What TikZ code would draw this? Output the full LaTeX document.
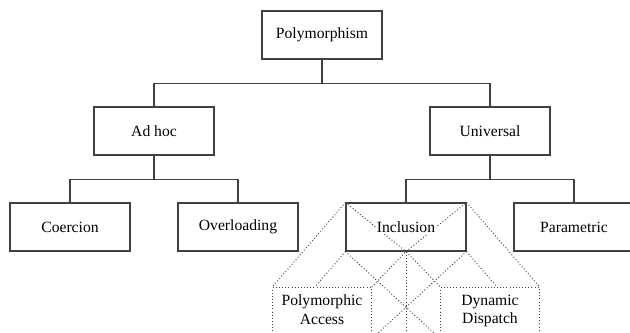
\documentclass[tikz,border=0pt]{standalone}
\usepackage{fontspec}
\setmainfont{Liberation Serif}
\usetikzlibrary{calc, backgrounds}
\newcommand{\onwhite}[1]{{\setlength{\fboxsep}{0.8pt}\colorbox{white}{#1}}}

\begin{document}
\begin{tikzpicture}[x=0.64pt, y=-0.64pt,
    box/.style={draw=black!75, line width=0.7pt, minimum width=76.8pt,
                minimum height=30.7pt},
    dotbox/.style={draw=black!75, line width=0.6pt,
                   dash pattern=on 0.6pt off 1.4pt, minimum width=63pt,
                   minimum height=32.6pt, align=center, anchor=north,
                   text depth=4.5pt},
    tree/.style={black!75, line width=0.7pt},
    dots/.style={black!75, line width=0.6pt, dash pattern=on 0.6pt off 1.4pt}]
    \useasboundingbox (0,0) rectangle (630,333);
    % the tree
    \node[box] (poly) at (322, 35) {Polymorphism};
    \node[box] (adhoc) at (154, 131) {Ad hoc};
    \node[box] (univ) at (490, 131) {Universal};
    \node[box] (coer) at (70, 227) {Coercion};
    \node[box] (overl) at (238, 227) {Overloading};
    \node[box] (incl) at (406, 227) {\onwhite{Inclusion}};
    \node[box] (param) at (574, 227) {Parametric};
    \draw[tree] (poly.south) -- ++(0, 24);
    \draw[tree] (adhoc.north) |- ($(poly.south)+(0, 24)$) -| (univ.north);
    \draw[tree] (adhoc.south) -- ++(0, 24);
    \draw[tree] (coer.north) |- ($(adhoc.south)+(0, 24)$) -| (overl.north);
    \draw[tree] (univ.south) -- ++(0, 24);
    \draw[tree] (incl.north) |- ($(univ.south)+(0, 24)$) -| (param.north);
    % the split of inclusion
    \node[dotbox] (pacc) at (322, 287) {Polymorphic\\Access};
    \node[dotbox] (ddisp) at (490, 287) {Dynamic\\Dispatch};
    \begin{scope}[on background layer]
      \draw[dots] (incl.north west) -- (incl.south) -- (incl.north east);
      \draw[dots] (incl.north west) -- (pacc.north west);
      \draw[dots] (incl.north east) -- (ddisp.north east);
      \draw[dots] (incl.south west) -- ($(pacc.north west)!0.43!(pacc.north east)$);
      \draw[dots] (incl.south east) -- ($(ddisp.north east)!0.43!(ddisp.north west)$);
      \draw[dots] (pacc.north east) -- (incl.south) -- (ddisp.north west);
      \draw[dots] (incl.south) -- (incl.south |- pacc.south);
      \draw[dots] (incl.south west) -- (ddisp.south west);
      \draw[dots] (incl.south east) -- (pacc.south east);
    \end{scope}
\end{tikzpicture}
\end{document}
